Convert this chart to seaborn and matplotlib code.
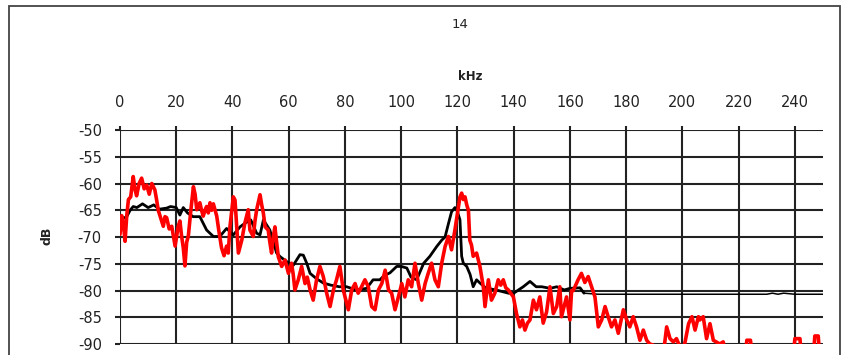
import matplotlib
matplotlib.use("Agg")
import matplotlib.pyplot as plt
from matplotlib.patches import Rectangle
import pandas as pd
import seaborn as sns

# Spectrum readings: frequency (kHz) and level (dB)
black_khz = [0.0, 1.2, 2.4, 3.6, 4.7, 6.0, 8.0, 10.0, 12.0, 14.0, 16.6, 18.0, 20.0, 21.3,
             22.5, 24.0, 26.0, 28.4, 30.8, 33.2, 35.5, 37.9, 40.3, 42.7, 44.5, 46.5, 48.6,
             49.8, 51.0, 53.3, 55.0, 55.7, 57.0, 59.3, 61.6, 64.0, 65.2, 66.4, 67.6, 69.9,
             72.3, 75.0, 78.0, 80.6, 84.0, 87.7, 90.0, 92.4, 94.0, 96.0, 98.4, 100.0, 102.0,
             103.5, 105.5, 108.0, 110.2, 112.6, 114.4, 115.6, 116.8, 117.9, 119.1, 119.7,
             120.9, 121.5, 122.1, 123.3, 124.5, 125.6, 126.8, 128.0, 130.0, 134.5, 138.1,
             140.0, 143.4, 145.8, 148.0, 150.0, 153.0, 155.3, 158.0, 160.0, 163.6, 165.0,
             170.0, 180.0, 190.0, 200.0, 210.0, 220.0, 230.0, 232.0, 234.0, 236.0, 240.0,
             250.0]
black_db = [-67.5, -66.5, -66.2, -65.0, -64.3, -64.5, -63.8, -64.5, -64.0, -64.8, -64.6,
            -64.3, -64.5, -65.9, -64.5, -65.5, -66.2, -66.2, -68.7, -69.9, -69.9, -68.4,
            -69.6, -68.1, -67.4, -66.8, -69.3, -69.6, -66.8, -68.7, -71.8, -73.0, -73.7,
            -74.6, -75.3, -73.3, -73.4, -74.9, -76.8, -77.8, -78.6, -79.0, -79.3, -79.3,
            -79.9, -79.6, -78.0, -78.0, -77.2, -76.7, -75.5, -75.5, -75.8, -77.5, -78.0,
            -74.9, -73.6, -71.8, -70.6, -70.0, -67.5, -65.3, -64.5, -64.8, -66.8, -73.6,
            -74.9, -75.5, -77.0, -79.3, -78.0, -78.6, -79.5, -80.0, -80.5, -80.5, -79.3,
            -78.3, -79.3, -79.3, -79.6, -79.3, -79.9, -79.6, -79.5, -80.5, -80.7, -80.7,
            -80.7, -80.7, -80.7, -80.7, -80.7, -80.5, -80.7, -80.5, -80.7, -80.7]

red_khz = [0.0, 0.6, 1.2, 1.8, 2.4, 3.0, 3.8, 4.7, 5.3, 5.9, 6.8, 7.7, 8.6, 9.5, 10.4,
           11.3, 12.4, 13.0, 13.6, 14.5, 15.4, 16.0, 16.6, 17.5, 18.4, 19.6, 20.7, 21.3,
           21.9, 22.5, 23.1, 23.7, 24.3, 25.2, 26.1, 26.7, 27.3, 28.4, 29.0, 29.6, 30.2,
           30.8, 31.4, 32.0, 32.6, 33.2, 34.4, 35.2, 36.1, 37.0, 37.9, 38.5, 39.1, 40.3,
           40.9, 41.5, 42.1, 43.3, 44.4, 45.6, 46.2, 47.4, 48.0, 48.6, 49.8, 50.4, 51.0,
           51.6, 52.7, 53.3, 53.9, 54.5, 55.1, 55.7, 56.3, 57.5, 58.7, 59.9, 61.0, 61.6,
           62.2, 63.4, 64.6, 65.8, 66.6, 67.6, 68.7, 69.9, 71.1, 72.3, 73.5, 74.7, 75.9,
           77.0, 78.2, 79.4, 80.6, 81.2, 82.4, 83.6, 84.7, 85.9, 87.1, 88.3, 89.5, 90.7,
           91.9, 93.1, 94.3, 95.5, 96.6, 97.8, 99.0, 100.2, 101.3, 102.5, 103.7, 104.9,
           106.1, 107.3, 108.5, 109.6, 110.8, 112.0, 113.2, 114.4, 115.6, 116.8, 117.9,
           119.1, 120.3, 120.9, 121.5, 122.1, 122.7, 123.3, 123.9, 124.4, 125.0, 125.6,
           126.8, 128.0, 129.2, 129.8, 131.0, 132.1, 133.3, 134.5, 135.4, 136.3, 137.2,
           138.1, 139.9, 141.0, 142.2, 143.1, 144.0, 144.9, 145.8, 147.0, 148.1, 149.3,
           150.5, 151.7, 152.9, 154.1, 155.3, 156.4, 157.0, 158.8, 160.0, 160.6, 161.2,
           162.9, 164.1, 165.3, 166.5, 167.7, 168.9, 170.1, 171.3, 172.5, 173.6, 174.8,
           176.0, 177.2, 178.4, 179.0, 180.2, 181.3, 182.5, 183.7, 184.9, 186.1, 187.3,
           188.4, 189.6, 190.8, 193.2, 194.4, 195.6, 196.8, 197.9, 199.1, 200.3, 201.0,
           202.2, 203.4, 204.5, 205.7, 206.2, 207.4, 208.6, 209.8, 211.0, 212.0, 213.3,
           214.5, 215.5, 222.5, 222.9, 224.2, 224.8, 239.5, 240.0, 241.8, 242.3, 246.6,
           247.1, 248.3, 248.8]
red_db = [-69.5, -66.0, -67.5, -70.8, -66.0, -63.0, -62.5, -58.7, -61.0, -62.3, -60.0,
          -59.0, -61.0, -60.3, -62.0, -60.0, -61.2, -63.0, -65.0, -66.5, -68.0, -66.2,
          -66.4, -68.5, -68.0, -71.7, -68.0, -67.0, -69.8, -72.0, -75.4, -71.0, -69.8,
          -65.0, -60.6, -62.0, -64.9, -63.6, -65.0, -66.1, -65.0, -64.3, -65.5, -63.6,
          -65.0, -63.8, -66.1, -69.0, -72.0, -73.5, -71.7, -73.0, -68.1, -62.5, -63.1,
          -68.0, -73.0, -70.6, -67.4, -64.9, -68.7, -69.9, -67.0, -64.9, -62.1, -64.0,
          -65.6, -68.1, -68.7, -71.0, -73.0, -70.0, -68.1, -71.0, -73.7, -75.5, -74.3,
          -76.8, -74.9, -77.0, -79.9, -78.0, -75.5, -78.7, -77.5, -79.9, -81.8, -78.0,
          -75.5, -77.4, -80.5, -83.0, -79.9, -78.0, -75.5, -79.9, -82.4, -83.6, -79.9,
          -78.7, -80.5, -79.3, -78.0, -79.3, -83.0, -83.6, -79.9, -78.7, -76.2, -79.9,
          -80.5, -83.6, -81.2, -78.7, -81.2, -78.0, -79.3, -74.9, -78.7, -81.8, -78.7,
          -76.8, -74.9, -78.0, -79.3, -74.9, -71.8, -69.9, -72.4, -68.7, -64.5, -62.5,
          -61.8, -63.0, -62.5, -64.0, -65.0, -70.6, -71.5, -73.6, -73.0, -75.5, -79.3,
          -83.0, -78.0, -81.8, -80.5, -78.0, -79.0, -78.0, -79.5, -79.9, -81.2, -84.3,
          -86.8, -85.5, -87.4, -86.1, -85.5, -81.8, -83.6, -81.2, -86.1, -84.0, -79.3,
          -84.3, -83.0, -79.3, -84.9, -81.2, -85.5, -80.0, -80.0, -78.0, -76.8, -78.5,
          -77.4, -79.3, -81.2, -86.8, -85.5, -83.0, -84.9, -86.8, -85.5, -88.0, -85.0,
          -83.6, -85.5, -86.8, -84.9, -86.8, -89.3, -87.4, -89.3, -90.0, -90.2, -92.0,
          -92.0, -86.8, -89.0, -89.6, -89.0, -90.5, -91.0, -89.5, -86.2, -84.9, -87.4,
          -84.9, -85.5, -84.9, -89.0, -86.2, -89.3, -89.6, -90.0, -89.6, -92.0, -92.0,
          -89.3, -89.3, -92.0, -92.0, -89.0, -89.0, -92.0, -92.0, -88.5, -88.5, -92.0]

x_ticks = [0, 20, 40, 60, 80, 100, 120, 140, 160, 180, 200, 220, 240]
y_ticks = [-50, -55, -60, -65, -70, -75, -80, -85, -90]

sns.set_style("white")
plt.rcParams["font.family"] = ["DejaVu Sans"]
plt.rcParams["axes.unicode_minus"] = False

black_df = pd.DataFrame({"kHz": black_khz, "dB": black_db})
red_df = pd.DataFrame({"kHz": red_khz, "dB": red_db})
# the flat high-frequency tail of the black trace is drawn with a finer pen
black_main = black_df[black_df["kHz"] <= 165]
black_tail = black_df[black_df["kHz"] >= 165]

fig = plt.figure(figsize=(8.46, 3.55), dpi=100)
ax = fig.add_axes([120 / 846, 1 - 344 / 355, 703 / 846, 214 / 355])

sns.lineplot(data=black_main, x="kHz", y="dB", color="black", linewidth=2.0,
             estimator=None, sort=False, ax=ax, zorder=3)
sns.lineplot(data=black_tail, x="kHz", y="dB", color="black", linewidth=1.1,
             estimator=None, sort=False, ax=ax, zorder=3)
sns.lineplot(data=red_df, x="kHz", y="dB", color="#ff0000", linewidth=2.6,
             estimator=None, sort=False, ax=ax, zorder=4)

ax.set_xlim(0, 250)
ax.set_ylim(-90, -50)
ax.set_xticks(x_ticks)
ax.set_yticks(y_ticks)
ax.xaxis.tick_top()
ax.grid(True, color="#222222", linewidth=1.5)
ax.set_axisbelow(True)
for s in ax.spines.values():
    s.set_visible(False)

ax.tick_params(axis="x", which="major", top=True, bottom=False, direction="out",
               length=3, width=1.5, color="#222222", pad=11.5,
               labelsize=10.5, labelcolor="#222222")
ax.tick_params(axis="y", which="major", left=True, direction="out",
               length=3.6, width=1.5, color="#222222", pad=9.5,
               labelsize=10.5, labelcolor="#222222")

ax.set_xlabel("")
ax.set_ylabel("dB", fontsize=9, fontweight="bold", color="#222222")
ax.yaxis.set_label_coords(-0.095, 0.505)

fig.text(470 / 846, 1 - 76 / 355, "kHz", ha="center", va="center",
         fontsize=8.5, fontweight="bold", color="#222222")
fig.text(460 / 846, 1 - 24 / 355, "14", ha="center", va="center",
         fontsize=9.5, color="#222222")

fig.patches.append(Rectangle((9 / 846, -0.2), 831 / 846, 1.2 - 6 / 355,
                             transform=fig.transFigure, fill=False,
                             edgecolor="#444444", linewidth=1.3))

fig.savefig("out.png", dpi=100)
